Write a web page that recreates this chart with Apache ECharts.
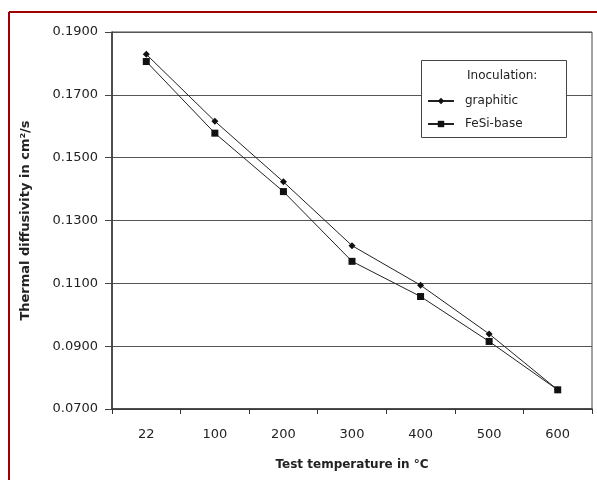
<!DOCTYPE html>
<html>
<head>
<meta charset="utf-8">
<title>Thermal diffusivity</title>
<script src="https://cdn.jsdelivr.net/npm/echarts@6/dist/echarts.min.js"></script>
<style>
  html, body { margin: 0; padding: 0; background: #fff; }
  #main { width: 597px; height: 480px; }
</style>
</head>
<body>
<div id="main"></div>
<script>
// 数据：测试温度 / 两种孕育处理
var temps = ['22', '100', '200', '300', '400', '500', '600'];
var graphitic = [0.1829, 0.1616, 0.1423, 0.1220, 0.1094, 0.0939, 0.0761];
var fesiBase = [0.1806, 0.1578, 0.1392, 0.1170, 0.1058, 0.0915, 0.0761];
var yTicks = [0.07, 0.09, 0.11, 0.13, 0.15, 0.17, 0.19];

var font = 'DejaVu Sans';
var myChart = echarts.init(document.getElementById('main'));

var option = {
    animation: false,
    backgroundColor: '#fff',
    textStyle: { fontFamily: font },
    grid: {
        left: 112, right: 5, top: 32, bottom: 71,
        show: true, borderColor: '#444', borderWidth: 1
    },
    legend: {
        orient: 'vertical',
        left: 427, top: 95,
        padding: 0,
        z: 20,
        itemWidth: 26, itemHeight: 8, itemGap: 11,
        textStyle: { fontFamily: font, fontSize: 12, color: '#222', padding: [0, 0, 0, 6] },
        data: ['graphitic', 'FeSi-base']
    },
    graphic: [
        // 红色外框（上、左）
        { type: 'line', shape: { x1: 9, y1: 12, x2: 597, y2: 12 }, style: { stroke: '#a00000', lineWidth: 2 } },
        { type: 'line', shape: { x1: 9, y1: 12, x2: 9, y2: 480 }, style: { stroke: '#a00000', lineWidth: 2 } },
        // 图例框
        { type: 'rect', z: 3, shape: { x: 421.5, y: 60.5, width: 145, height: 77 },
          style: { fill: '#fff', stroke: '#444', lineWidth: 1 } },
        { type: 'text', left: 467, top: 70, z: 100,
          style: { text: 'Inoculation:', font: '12px "DejaVu Sans"', fill: '#222' } }
    ],
    xAxis: {
        type: 'category',
        data: temps,
        boundaryGap: true,
        name: 'Test temperature in °C',
        nameLocation: 'middle',
        nameGap: 50,
        nameTextStyle: { fontFamily: font, fontSize: 12, fontWeight: 'bold', color: '#222' },
        axisLine: { lineStyle: { color: '#333', width: 1.5 } },
        axisTick: { show: true, length: 5, inside: false, lineStyle: { color: '#333' } },
        axisLabel: { fontFamily: font, fontSize: 13, color: '#222', margin: 19 }
    },
    yAxis: {
        type: 'value',
        min: 0.07, max: 0.19, interval: 0.02,
        name: 'Thermal diffusivity in cm²/s',
        nameLocation: 'middle',
        nameGap: 80,
        nameTextStyle: { fontFamily: font, fontSize: 13, fontWeight: 'bold', color: '#222' },
        axisLine: { show: true, lineStyle: { color: '#333', width: 1.5 } },
        axisTick: { show: true, length: 7, lineStyle: { color: '#444' } },
        splitLine: { lineStyle: { color: '#555', width: 1 } },
        axisLabel: {
            fontFamily: font, fontSize: 13, color: '#222', margin: 14,
            formatter: function (v) {
                for (var i = 0; i < yTicks.length; i++) {
                    if (Math.abs(v - yTicks[i]) < 1e-9) return yTicks[i].toFixed(4);
                }
                return v.toFixed(4);
            }
        }
    },
    series: [
        {
            name: 'graphitic',
            type: 'line',
            data: graphitic,
            symbol: 'diamond', symbolSize: 7,
            lineStyle: { color: '#222', width: 1 },
            itemStyle: { color: '#111' }
        },
        {
            name: 'FeSi-base',
            type: 'line',
            data: fesiBase,
            symbol: 'rect', symbolSize: 7,
            lineStyle: { color: '#222', width: 1 },
            itemStyle: { color: '#111' }
        }
    ]
};
myChart.setOption(option);
</script>
</body>
</html>
